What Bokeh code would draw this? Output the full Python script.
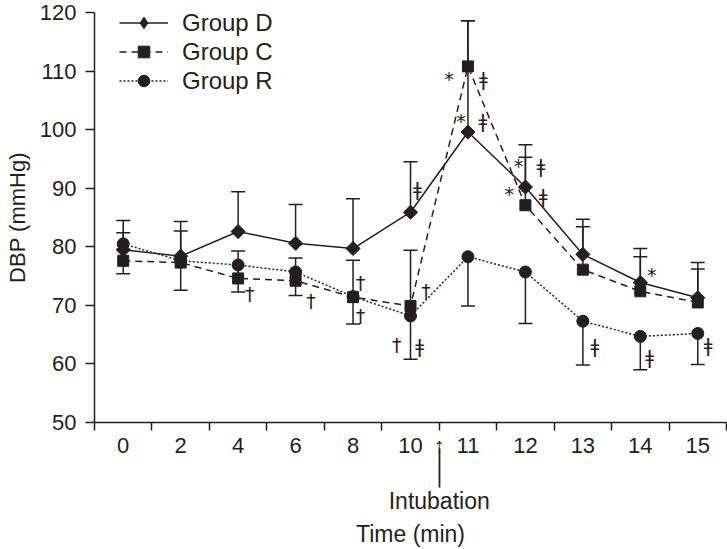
import numpy as np
from bokeh.plotting import figure
from bokeh.models import (Range1d, FixedTicker, ColumnDataSource, Whisker, TeeHead,
                          LinearAxis, Legend, LegendItem)
from bokeh.core.properties import value
from bokeh.embed import file_html
from bokeh.resources import INLINE

# ---------------- data ----------------
times = ["0", "2", "4", "6", "8", "10", "11", "12", "13", "14", "15"]

d_mean = [79.5, 78.4, 82.6, 80.6, 79.7, 85.9, 99.6, 90.2, 78.7, 73.9, 71.3]
d_sd   = [5.0, 5.9, 6.8, 6.6, 8.5, 8.6, 19.0, 7.2, 6.0, 5.8, 6.0]

c_mean = [77.6, 77.3, 74.6, 74.2, 71.4, 69.9, 110.8, 87.1, 76.1, 72.4, 70.5]
c_sd   = [4.8, 5.4, 4.7, 3.9, 6.3, 9.5, 7.8, 8.2, 7.3, 5.9, 5.7]

r_mean = [80.5, 77.6, 76.9, 75.7, 71.5, 68.2, 78.3, 75.7, 67.3, 64.7, 65.2]
r_sd   = [5.1, 5.0, 4.6, 4.0, 4.7, 7.4, 8.4, 8.8, 7.5, 5.7, 5.3]

# significance marks: (position along the time axis, DBP value, symbol)
mark_x = [2.70, 3.77, 4.63, 4.63, 5.62, 5.77, 5.26, 5.66, 6.17, 6.77, 6.38, 6.76,
          7.38, 7.77, 7.22, 7.81, 8.71, 9.70, 9.66, 10.68]
mark_y = [72.0, 70.7, 73.9, 68.2, 89.9, 72.4, 63.3, 63.1, 108.6, 108.6, 101.4, 101.4,
          93.8, 93.8, 89.0, 88.7, 63.1, 75.1, 61.1, 63.3]
mark_t = ["†", "†", "†", "†", "ǂ", "†", "†", "ǂ", "*", "ǂ", "*", "ǂ",
          "*", "ǂ", "*", "ǂ", "ǂ", "*", "ǂ", "ǂ"]

y_ticks = [50, 60, 70, 80, 90, 100, 110, 120]
intubation_at = 6          # boundary between "10" and "11"

# ---------------- figure ----------------
INK = "#231f20"
FONT = "Liberation Sans"

x = [i + 0.5 for i in range(len(times))]

p = figure(width=727, height=549, output_backend="svg", toolbar_location=None,
           x_range=Range1d(0, len(times)), y_range=Range1d(50, 120),
           min_border_left=94, min_border_right=1, min_border_top=12, min_border_bottom=0)
p.outline_line_color = None
p.grid.visible = False
p.background_fill_color = "white"
p.border_fill_color = "white"

# main x axis: labels at category centres, tick marks at boundaries, arrow head at intubation
xa = p.xaxis[0]
xa.ticker = FixedTicker(ticks=x + [intubation_at], minor_ticks=list(range(len(times) + 1)))
overrides = {xi: t for xi, t in zip(x, times)}
overrides[intubation_at] = "↑"
xa.major_label_overrides = overrides
xa.major_tick_out = 0
xa.major_tick_in = 0
xa.minor_tick_out = 8
xa.minor_tick_in = 0
xa.minor_tick_line_color = INK
xa.minor_tick_line_width = 1.5
xa.axis_line_color = INK
xa.axis_line_width = 1.5
xa.major_label_text_font = FONT
xa.major_label_text_font_size = "22px"
xa.major_label_text_color = INK
xa.major_label_standoff = 2

# second axis below: arrow shaft (its single tick) + "Intubation" + axis title
xb = LinearAxis(ticker=FixedTicker(ticks=[intubation_at]),
                major_label_overrides={intubation_at: "Intubation"},
                bounds=(intubation_at, intubation_at))
xb.axis_line_color = INK
xb.axis_line_width = 1
xb.major_tick_in = 12
xb.major_tick_out = 27
xb.major_tick_line_color = INK
xb.major_tick_line_width = 1.8
xb.minor_tick_out = 0
xb.minor_tick_in = 0
xb.major_label_text_font = FONT
xb.major_label_text_font_size = "23px"
xb.major_label_text_color = INK
xb.major_label_standoff = 0
xb.axis_label = "Time (min)"
xb.axis_label_text_font = FONT
xb.axis_label_text_font_size = "23px"
xb.axis_label_text_font_style = "normal"
xb.axis_label_text_color = INK
xb.axis_label_standoff = 4
p.add_layout(xb, "below")

ya = p.yaxis[0]
ya.ticker = FixedTicker(ticks=y_ticks)
ya.major_tick_out = 9
ya.major_tick_in = 0
ya.minor_tick_out = 0
ya.minor_tick_in = 0
ya.major_tick_line_color = INK
ya.major_tick_line_width = 1.5
ya.axis_line_color = INK
ya.axis_line_width = 1.5
ya.major_label_text_font = FONT
ya.major_label_text_font_size = "22px"
ya.major_label_text_color = INK
ya.major_label_standoff = 9
ya.axis_label = "DBP (mmHg)"
ya.axis_label_text_font = FONT
ya.axis_label_text_font_size = "22px"
ya.axis_label_text_font_style = "normal"
ya.axis_label_text_color = INK
ya.axis_label_standoff = 7

# ---------------- sources ----------------
def src(mean, sd, up):
    lo = [m if up else m - s for m, s in zip(mean, sd)]
    hi = [m + s if up else m for m, s in zip(mean, sd)]
    return ColumnDataSource(dict(x=x, y=mean, lo=lo, hi=hi))

sd_ = src(d_mean, d_sd, True)
sc_ = src(c_mean, c_sd, True)
sr_ = src(r_mean, r_sd, False)

# error bars
for s, up in ((sd_, True), (sc_, True), (sr_, False)):
    head = TeeHead(size=14, line_color=INK, line_width=1.5)
    w = Whisker(base="x", lower="lo", upper="hi", source=s, dimension="height",
                line_color=INK, line_width=1.5,
                upper_head=head if up else None,
                lower_head=None if up else head)
    p.add_layout(w)

# lines
ld = p.line("x", "y", source=sd_, line_color=INK, line_width=1.5)
lc = p.line("x", "y", source=sc_, line_color=INK, line_width=1.5, line_dash="7 5")
lr = p.line("x", "y", source=sr_, line_color=INK, line_width=1.5, line_dash="2 2")

# markers
md = p.scatter("x", "y", source=sd_, marker="square", angle=np.pi / 4, size=10,
               fill_color=INK, line_color=INK)
mc = p.scatter("x", "y", source=sc_, marker="square", size=11,
               fill_color=INK, line_color=INK)
mr = p.scatter("x", "y", source=sr_, marker="circle", size=12,
               fill_color=INK, line_color=INK)
# legend-only diamond swatch (legend swatches are drawn unrotated)
md_key = p.scatter(x=[np.nan], y=[np.nan], marker="diamond", size=10,
                   fill_color=INK, line_color=INK)

# significance marks
p.text(x=mark_x, y=mark_y, text=mark_t, text_font=value("DejaVu Sans"),
       text_font_size="19px", text_color=INK, text_align="center",
       text_baseline="middle")

legend = Legend(items=[LegendItem(label="Group D", renderers=[ld, md_key]),
                       LegendItem(label="Group C", renderers=[lc, mc]),
                       LegendItem(label="Group R", renderers=[lr, mr])],
                location=(25, 327), padding=0, margin=0, spacing=0,
                glyph_width=49, glyph_height=29, label_height=29,
                label_standoff=14, label_text_font=FONT, label_text_font_size="24px",
                label_text_color=INK, border_line_color=None,
                background_fill_alpha=0)
p.add_layout(legend)

open("out.html", "w").write(file_html(p, INLINE))
